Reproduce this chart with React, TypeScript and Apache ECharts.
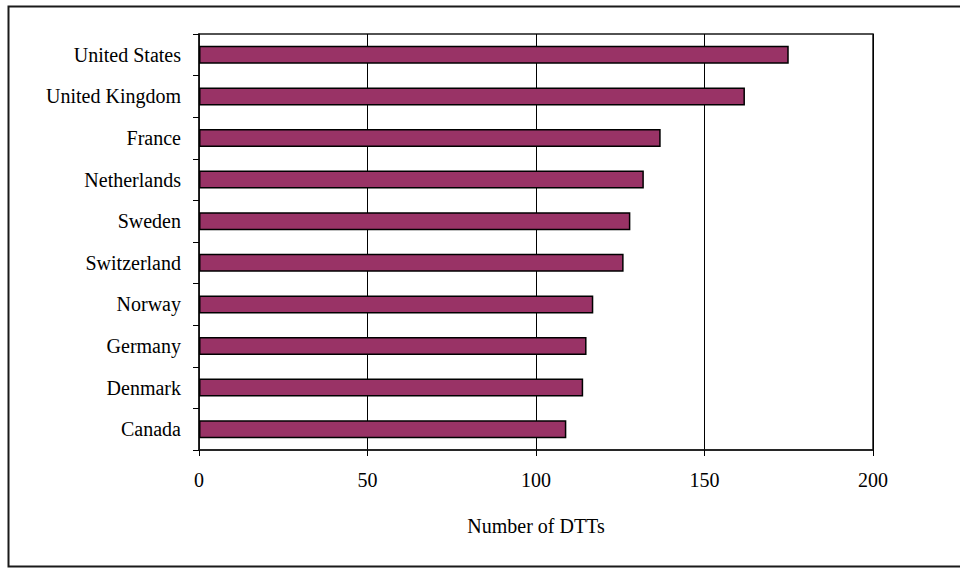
import React, { useEffect, useRef } from "react";
import * as echarts from "echarts";

const categories = [
  "United States",
  "United Kingdom",
  "France",
  "Netherlands",
  "Sweden",
  "Switzerland",
  "Norway",
  "Germany",
  "Denmark",
  "Canada",
];
const values = [175, 162, 137, 132, 128, 126, 117, 115, 114, 109];
const axisTitle = "Number of DTTs";
const xMin = 0;
const xMax = 200;
const xStep = 50;

const FONT = "'Liberation Serif', 'Times New Roman', serif";

export default function App() {
  const ref = useRef<HTMLDivElement>(null);
  useEffect(() => {
    if (!ref.current) return;
    const chart = echarts.init(ref.current, null, { renderer: "svg" });
    chart.setOption({
      animation: false,
      backgroundColor: "#ffffff",
      textStyle: { fontFamily: FONT },
      graphic: [
        {
          type: "rect",
          shape: { x: 8.5, y: 6.5, width: 960, height: 560 },
          style: { fill: "none", stroke: "#1a1a1a", lineWidth: 2 },
          silent: true,
        },
      ],
      grid: {
        left: 199,
        right: 87,
        top: 34,
        bottom: 118,
        show: true,
        borderColor: "#1a1a1a",
        borderWidth: 1.5,
        backgroundColor: "transparent",
      },
      xAxis: {
        type: "value",
        min: xMin,
        max: xMax,
        interval: xStep,
        name: axisTitle,
        nameLocation: "middle",
        nameGap: 66,
        nameTextStyle: { fontFamily: FONT, fontSize: 20, color: "#000" },
        axisLine: { show: true, lineStyle: { color: "#1a1a1a", width: 1.5 } },
        axisTick: { show: true, length: 6, lineStyle: { color: "#000", width: 1 } },
        axisLabel: { margin: 20, fontFamily: FONT, fontSize: 20, color: "#000" },
        splitLine: { show: true, lineStyle: { color: "#000", width: 1 } },
      },
      yAxis: {
        type: "category",
        data: categories,
        inverse: true,
        axisLine: { show: true, lineStyle: { color: "#1a1a1a", width: 1.5 } },
        axisTick: { show: true, length: 6, alignWithLabel: false, lineStyle: { color: "#000", width: 1 } },
        axisLabel: { margin: 18, fontFamily: FONT, fontSize: 20, color: "#000" },
        splitLine: { show: false },
      },
      series: [
        {
          type: "bar",
          data: values,
          barWidth: 18,
          itemStyle: { color: "#993366", borderColor: "#000", borderWidth: 1.5 },
        },
      ],
    });
    return () => chart.dispose();
  }, []);
  return (
    <div
      ref={ref}
      style={{ position: "absolute", left: 0, top: 0, width: 960, height: 568 }}
    />
  );
}
